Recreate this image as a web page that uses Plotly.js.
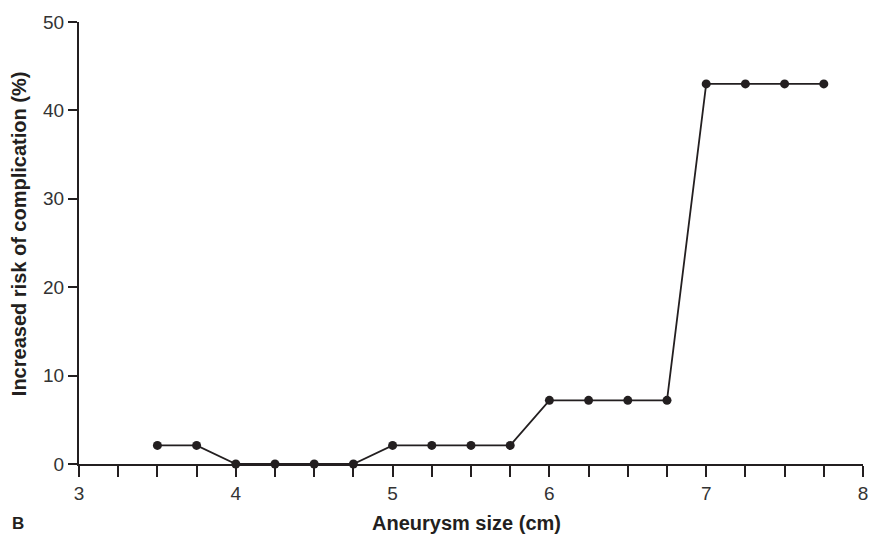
<!DOCTYPE html>
<html>
<head>
<meta charset="utf-8">
<script src="https://cdn.plot.ly/plotly-3.0.1.min.js"></script>
<style>html,body{margin:0;padding:0;background:#fff;}#chart{width:869px;height:534px;}</style>
</head>
<body>
<div id="chart"></div>
<script>
const sizes = [3.5, 3.75, 4, 4.25, 4.5, 4.75, 5, 5.25, 5.5, 5.75, 6, 6.25, 6.5, 6.75, 7, 7.25, 7.5, 7.75];
const risk = [2.1, 2.1, 0, 0, 0, 0, 2.1, 2.1, 2.1, 2.1, 7.2, 7.2, 7.2, 7.2, 43, 43, 43, 43];
const xTickVals = [3, 3.25, 3.5, 3.75, 4, 4.25, 4.5, 4.75, 5, 5.25, 5.5, 5.75, 6, 6.25, 6.5, 6.75, 7, 7.25, 7.5, 7.75, 8];
const xTickText = ['3', '', '', '', '4', '', '', '', '5', '', '', '', '6', '', '', '', '7', '', '', '', '8'];
const yTickVals = [0, 10, 20, 30, 40, 50];
const xTitle = 'Aneurysm size (cm)';
const yTitle = 'Increased risk of complication (%)';
const panelLabel = 'B';

const ink = '#231f20';
const trace = {
  x: sizes, y: risk, type: 'scatter', mode: 'lines+markers',
  line: {color: ink, width: 1.8},
  marker: {color: ink, size: 9},
  cliponaxis: false, hoverinfo: 'none'
};
const layout = {
  width: 869, height: 534,
  margin: {l: 79, r: 6, t: 22, b: 70},
  paper_bgcolor: '#fff', plot_bgcolor: '#fff',
  showlegend: false,
  font: {family: 'Liberation Sans, Arial, sans-serif', color: '#333'},
  xaxis: {
    range: [3, 8], tickmode: 'array', tickvals: xTickVals, ticktext: xTickText,
    ticks: 'outside', ticklen: 11, tickwidth: 2, tickcolor: ink,
    showline: true, linecolor: ink, linewidth: 2, showgrid: false, zeroline: false,
    tickfont: {size: 19, color: '#333'},
    automargin: false
  },
  yaxis: {
    range: [0, 50], tickmode: 'array', tickvals: yTickVals,
    ticks: 'outside', ticklen: 9, tickwidth: 2, tickcolor: ink,
    showline: true, linecolor: ink, linewidth: 2, showgrid: false, zeroline: false,
    tickfont: {size: 19, color: '#333'},
    automargin: false
  },
  annotations: [
    {
      text: '<b>' + xTitle + '</b>', xref: 'paper', yref: 'paper', x: 0.5, y: 0,
      xanchor: 'center', yanchor: 'middle', xshift: -5, yshift: -59,
      showarrow: false, font: {size: 20, color: ink}
    },
    {
      text: '<b>' + yTitle + '</b>', xref: 'paper', yref: 'paper', x: 0, y: 0.52,
      xanchor: 'center', yanchor: 'middle', xshift: -60, textangle: -90,
      showarrow: false, font: {size: 20, color: ink}
    },
    {
      text: '<b>' + panelLabel + '</b>', xref: 'paper', yref: 'paper', x: 0, y: 0,
      xanchor: 'left', yanchor: 'middle', xshift: -69, yshift: -59,
      showarrow: false, font: {size: 17, color: ink}
    }
  ]
};
Plotly.newPlot('chart', [trace], layout, {displayModeBar: false, staticPlot: true});
</script>
</body>
</html>
